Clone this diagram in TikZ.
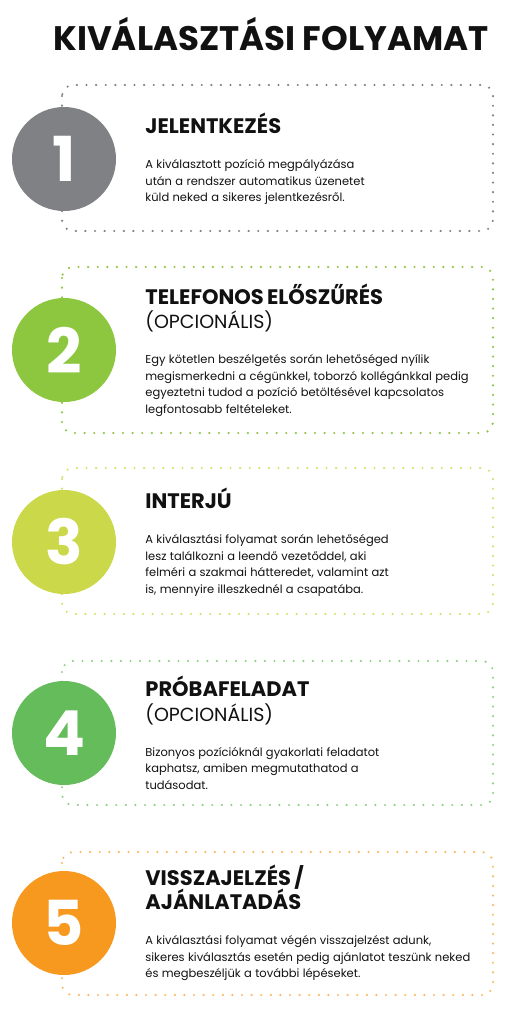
\documentclass[tikz,border=0pt]{standalone}
\usepackage{fontspec}
\setmainfont{Poppins}
\usetikzlibrary{positioning}
\definecolor{cGray}{HTML}{808184}
\definecolor{cGreen}{HTML}{8DC63F}
\definecolor{cLime}{HTML}{CAD84A}
\definecolor{cLeaf}{HTML}{65BC5A}
\definecolor{cOrange}{HTML}{F7991F}
\definecolor{cInk}{HTML}{111111}
\tikzset{
  card/.style={draw=#1,line width=2.4pt,line cap=round,dash pattern=on 0pt off 9.6pt,rounded corners=11pt},
  num/.style ={circle,fill=#1,minimum size=104pt,inner sep=0pt,text=white,font=\numfont},
  txt/.style ={text=cInk,align=left,text width=345pt,inner sep=0pt},
}
\newcommand{\numfont}{\fontsize{62}{62}\selectfont\bfseries}
\newcommand{\stephd}{\fontsize{21}{24.5}\selectfont\bfseries}
\newcommand{\stepop}{\fontsize{19}{24.5}\selectfont}
\newcommand{\stepbd}{\fontsize{11.5}{16.5}\selectfont}

\begin{document}
\begin{tikzpicture}[x=1pt,y=-1pt]
\useasboundingbox (0,0) rectangle (512,1015);
\node[anchor=base,text=cInk,font=\fontsize{34}{34}\selectfont\bfseries] (title) at (271,50) {KIVÁLASZTÁSI FOLYAMAT};
% dotted cards
\draw[card=cGray]     (62,85)  rectangle (493,231);
\draw[card=cGreen]    (62,267) rectangle (493,433);
\draw[card=cLime!80]  (62,468) rectangle (493,614);
\draw[card=cLeaf!70]  (62,661) rectangle (493,805);
\draw[card=cOrange!70](62,852) rectangle (493,995);
% numbers
\node[num=cGray]   (n1) at (64,159) {1};
\node[num=cGreen]  (n2) at (64,350) {2};
\node[num=cLime]   (n3) at (64,542) {3};
\node[num=cLeaf]   (n4) at (64,733) {4};
\node[num=cOrange] (n5) at (64,923) {5};
% texts
\node[txt,right=29pt of n1] (t1) {{\stephd JELENTKEZÉS\par}\vspace{18.5pt}
  {\stepbd A kiválasztott pozíció megpályázása\\ után a rendszer automatikus üzenetet\\ küld neked a sikeres jelentkezésről.\par}};
\node[txt,right=29pt of n2] (t2) {{\stephd TELEFONOS ELŐSZŰRÉS\par}{\stepop (OPCIONÁLIS)\par}\vspace{18.5pt}
  {\stepbd Egy kötetlen beszélgetés során lehetőséged nyílik\\ megismerkedni a cégünkkel, toborzó kollégánkkal pedig\\ egyeztetni tudod a pozíció betöltésével kapcsolatos\\ legfontosabb feltételeket.\par}};
\node[txt,right=29pt of n3] (t3) {{\stephd INTERJÚ\par}\vspace{18.5pt}
  {\stepbd A kiválasztási folyamat során lehetőséged\\ lesz találkozni a leendő vezetőddel, aki\\ felméri a szakmai hátteredet, valamint azt\\ is, mennyire illeszkednél a csapatába.\par}};
\node[txt,right=29pt of n4] (t4) {{\stephd PRÓBAFELADAT\par}{\stepop (OPCIONÁLIS)\par}\vspace{18.5pt}
  {\stepbd Bizonyos pozícióknál gyakorlati feladatot\\ kaphatsz, amiben megmutathatod a\\ tudásodat.\par}};
\node[txt,right=29pt of n5] (t5) {{\stephd VISSZAJELZÉS /\\ AJÁNLATADÁS\par}\vspace{18.5pt}
  {\stepbd A kiválasztási folyamat végén visszajelzést adunk,\\ sikeres kiválasztás esetén pedig ajánlatot teszünk neked\\ és megbeszéljük a további lépéseket.\par}};
\end{tikzpicture}
\end{document}
